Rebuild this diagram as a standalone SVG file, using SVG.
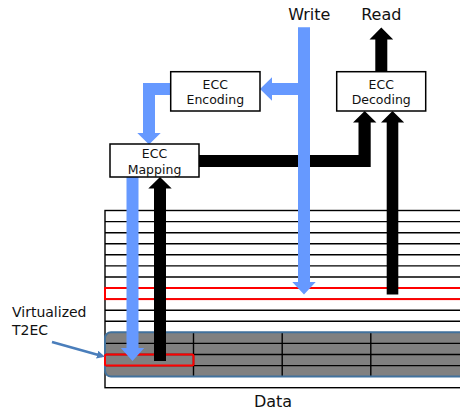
<svg xmlns="http://www.w3.org/2000/svg" width="460" height="414" viewBox="0 0 460 414">
<style>
text{font-family:"DejaVu Sans",Verdana,sans-serif;fill:#111;text-anchor:middle}
.box{fill:#fff;stroke:#000;stroke-width:1.5}
.bt{font-size:12.5px}
.lbl{font-size:16px}
.grid{stroke:#000;stroke-width:1.4}
.blue{fill:#6699FF}
.black{fill:#000}
.red{fill:none;stroke:#FF0000;stroke-width:2}
</style>
<defs>
<marker id="ah" markerWidth="8" markerHeight="8" refX="5" refY="4" orient="auto" markerUnits="userSpaceOnUse"><path d="M0,0 L8,4 L0,8 Z" fill="#4A7EBB"/></marker>
</defs>
<rect width="460" height="414" fill="#fff"/>
<g id="memory">
<rect x="105" y="210.5" width="370" height="177.2" fill="#fff" stroke="#000" stroke-width="1.4"/>
<rect x="105" y="332.3" width="370" height="44.3" rx="6" fill="#808080"/>
<g class="grid">
<line x1="105" y1="221.6" x2="470" y2="221.6"/>
<line x1="105" y1="232.7" x2="470" y2="232.7"/>
<line x1="105" y1="243.7" x2="470" y2="243.7"/>
<line x1="105" y1="254.8" x2="470" y2="254.8"/>
<line x1="105" y1="265.9" x2="470" y2="265.9"/>
<line x1="105" y1="277.0" x2="470" y2="277.0"/>
<line x1="105" y1="288.0" x2="470" y2="288.0"/>
<line x1="105" y1="299.1" x2="470" y2="299.1"/>
<line x1="105" y1="310.2" x2="470" y2="310.2"/>
<line x1="105" y1="321.3" x2="470" y2="321.3"/>
<line x1="105" y1="343.4" x2="470" y2="343.4"/>
<line x1="105" y1="354.5" x2="470" y2="354.5"/>
<line x1="105" y1="365.6" x2="470" y2="365.6"/>
<line x1="193.5" y1="332.3" x2="193.5" y2="376.6"/>
<line x1="282.2" y1="332.3" x2="282.2" y2="376.6"/>
<line x1="370.8" y1="332.3" x2="370.8" y2="376.6"/>
</g>
<rect x="105" y="332.3" width="370" height="44.3" rx="6" fill="none" stroke="#41719C" stroke-width="2"/>
<rect x="105" y="288" width="370" height="11.1" class="red"/>
<rect x="105" y="354.5" width="88.5" height="11.1" rx="1.5" class="red"/>
</g>
<g id="connectors">
<polygon class="black" points="199,155 358.5,155 358.5,122.5 353,122.5 364.7,111 376.4,122.5 370.7,122.5 370.7,167 199,167"/>
<polygon class="black" points="386.7,294.5 386.7,122.5 381,122.5 392.5,111 404.2,122.5 398.3,122.5 398.3,294.5"/>
<polygon class="black" points="375.3,71.7 375.3,39.5 369.5,39.5 381.3,27.5 393.2,39.5 387.3,39.5 387.3,71.7"/>
<polygon class="black" points="154,361 154,188.5 148.3,188.5 160,177 171.7,188.5 166,188.5 166,361"/>
<polygon class="blue" points="304,83 272,83 272,77.3 260,89 272,100.7 272,95 304,95"/>
<polygon class="blue" points="171,83 143,83 143,133 137.3,133 149,144.5 160.7,133 155,133 155,95 171,95"/>
<polygon class="blue" points="126.5,177 126.5,348 120.8,348 132.5,361 144.2,348 138.5,348 138.5,177"/>
<polygon class="blue" points="298,27.3 298,282 292.3,282 304,294.5 315.7,282 310,282 310,27.3"/>
<line x1="52" y1="342" x2="102" y2="356" stroke="#4A7EBB" stroke-width="2.5" marker-end="url(#ah)"/>
</g>
<g id="ecc-encoding">
<rect class="box" x="170.7" y="71.7" width="89.3" height="39.3"/>
<text class="bt" x="215.3" y="89.3">ECC</text>
<text class="bt" x="215.3" y="104.3">Encoding</text>
</g>
<g id="ecc-decoding">
<rect class="box" x="336.7" y="71.7" width="89" height="39.3"/>
<text class="bt" x="381.2" y="89.3">ECC</text>
<text class="bt" x="381.2" y="104.3">Decoding</text>
</g>
<g id="ecc-mapping">
<rect class="box" x="110" y="144" width="89" height="33"/>
<text class="bt" x="154.5" y="158.3">ECC</text>
<text class="bt" x="154.5" y="173.5">Mapping</text>
</g>
<g id="write-label"><text class="lbl" x="309.3" y="19.5">Write</text></g>
<g id="read-label"><text class="lbl" x="381.3" y="19.5">Read</text></g>
<g id="t2ec-label">
<text x="12" y="316.5" style="font-size:14px;text-anchor:start">Virtualized</text>
<text x="12" y="334.5" style="font-size:14px;text-anchor:start">T2EC</text>
</g>
<g id="data-label"><text class="lbl" x="273" y="407">Data</text></g>
</svg>
